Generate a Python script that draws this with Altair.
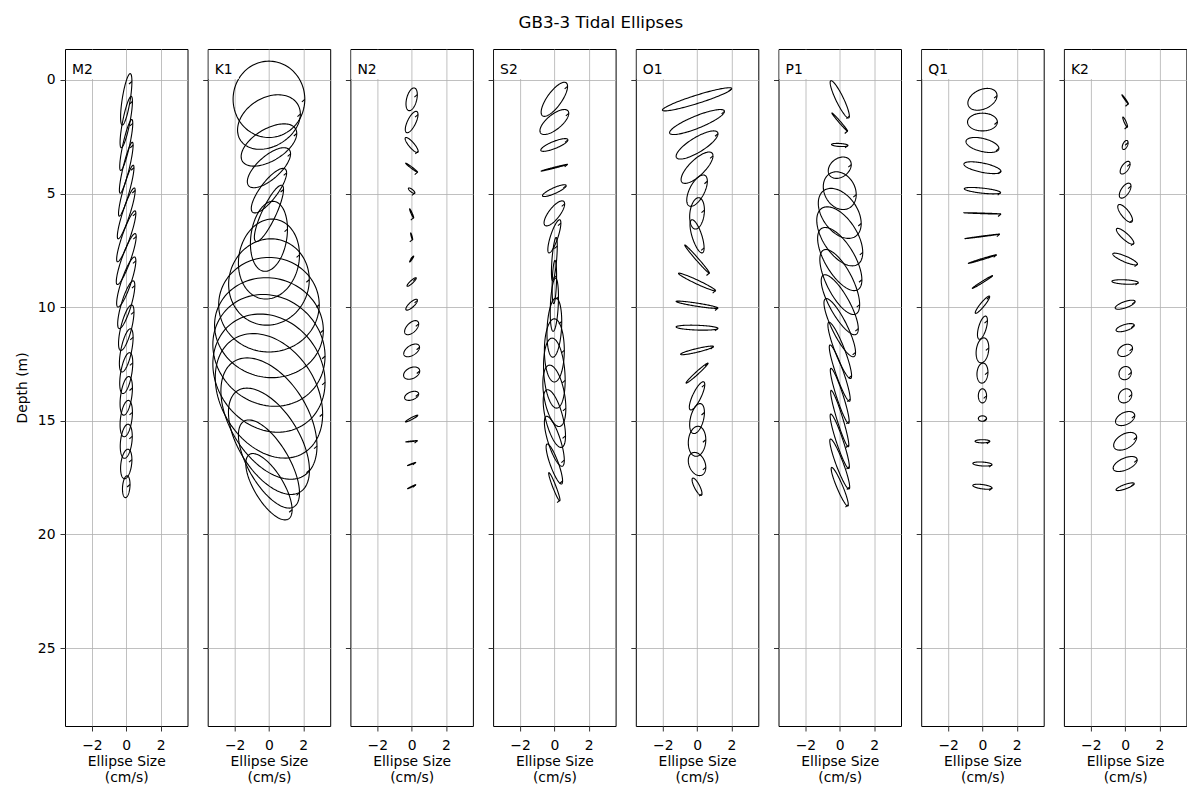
import numpy as np
import pandas as pd
import altair as alt

# Depth (m) of each ellipse centre
DEPTHS = [0.85, 1.85, 2.86, 3.86, 4.87, 5.87, 6.88, 7.88, 8.89,
          9.89, 10.9, 11.9, 12.9, 13.9, 14.9, 15.9, 16.9, 17.9]

CONSTITUENTS = ["M2", "K1", "N2", "S2", "O1", "P1", "Q1", "K2"]

# East amplitude (cm/s), depth-axis amplitude (cm/s), phase lag (deg) per constituent
M2_U = [0.33, 0.36, 0.38, 0.40, 0.45, 0.52, 0.56, 0.58, 0.56, 0.50, 0.45, 0.40, 0.38, 0.36, 0.36, 0.35, 0.33, 0.22]
M2_V = [1.13, 1.13, 1.12, 1.12, 1.12, 1.12, 1.12, 1.12, 1.10, 1.05, 1.00, 0.95, 0.90, 0.85, 0.80, 0.75, 0.65, 0.48]
M2_P = [134, 143, 148, 152, 154, 154, 154, 152, 148, 143, 134, 127, 120, 114, 110, 107, 107, 102]

K1_U = [2.09, 1.83, 1.62, 1.26, 1.03, 0.85, 1.08, 1.78, 2.35, 2.93, 3.17, 3.27, 3.27, 3.13, 2.80, 2.36, 1.78, 1.35]
K1_V = [1.68, 1.20, 0.93, 0.88, 0.98, 1.24, 1.54, 1.76, 1.90, 2.08, 2.20, 2.46, 2.60, 2.74, 2.67, 2.34, 1.94, 1.46]
K1_P = [90, 107, 123, 134, 143, 148, 102, 96, 93, 90, 87, 84, 81, 73, 63, 57, 49, 46]

N2_U = [0.33, 0.37, 0.38, 0.35, 0.19, 0.12, 0.06, 0.12, 0.27, 0.34, 0.41, 0.46, 0.47, 0.41, 0.36, 0.34, 0.24, 0.24]
N2_V = [0.50, 0.47, 0.33, 0.20, 0.12, 0.20, 0.15, 0.13, 0.19, 0.24, 0.31, 0.28, 0.27, 0.20, 0.15, 0.03, 0.07, 0.09]
N2_P = [114, 134, 32, 11, 37, 18, 26, 162, 154, 143, 123, 120, 110, 114, 162, 154, 169, 169]

S2_U = [0.77, 0.84, 0.79, 0.77, 0.69, 0.60, 0.38, 0.17, 0.13, 0.24, 0.43, 0.58, 0.63, 0.67, 0.65, 0.58, 0.48, 0.33]
S2_V = [0.75, 0.55, 0.28, 0.15, 0.26, 0.55, 0.73, 0.95, 0.95, 1.17, 1.30, 1.39, 1.54, 1.35, 1.27, 1.10, 0.88, 0.62]
S2_P = [139, 134, 143, 172, 148, 139, 143, 127, 107, 107, 102, 90, 78, 66, 53, 41, 32, 18]

O1_U = [2.02, 1.60, 1.22, 0.93, 0.60, 0.43, 0.41, 0.72, 1.08, 1.22, 1.22, 0.96, 0.64, 0.45, 0.43, 0.51, 0.51, 0.29]
O1_V = [0.51, 0.55, 0.62, 0.69, 0.69, 0.69, 0.73, 0.62, 0.39, 0.16, 0.11, 0.19, 0.44, 0.62, 0.66, 0.66, 0.51, 0.38]
O1_P = [158, 148, 143, 139, 127, 102, 46, 8, 14, 26, 73, 154, 169, 143, 114, 96, 73, 37]

P1_U = [0.56, 0.46, 0.48, 0.67, 0.96, 1.25, 1.34, 1.29, 1.16, 1.08, 0.92, 0.69, 0.61, 0.55, 0.53, 0.56, 0.58, 0.50]
P1_V = [0.82, 0.40, 0.07, 0.47, 0.83, 1.10, 1.30, 1.39, 1.43, 1.32, 1.28, 1.24, 1.24, 1.21, 1.24, 1.20, 1.10, 0.85]
P1_P = [26, 8, 73, 107, 78, 66, 57, 49, 46, 37, 32, 26, 23, 22, 20, 22, 23, 22]

Q1_U = [0.85, 0.87, 0.96, 1.08, 1.06, 1.08, 1.01, 0.82, 0.59, 0.42, 0.29, 0.37, 0.32, 0.24, 0.24, 0.43, 0.56, 0.56]
Q1_V = [0.48, 0.39, 0.33, 0.26, 0.14, 0.03, 0.10, 0.19, 0.28, 0.38, 0.51, 0.55, 0.44, 0.31, 0.12, 0.07, 0.09, 0.11]
Q1_P = [110, 90, 63, 53, 53, 26, 172, 172, 172, 158, 127, 102, 96, 90, 90, 90, 73, 60]

K2_U = [0.19, 0.14, 0.17, 0.29, 0.34, 0.43, 0.51, 0.72, 0.77, 0.58, 0.53, 0.43, 0.36, 0.39, 0.56, 0.67, 0.70, 0.53]
K2_V = [0.20, 0.22, 0.20, 0.28, 0.33, 0.39, 0.35, 0.26, 0.10, 0.20, 0.18, 0.27, 0.29, 0.31, 0.31, 0.39, 0.33, 0.17]
K2_P = [11, 26, 120, 127, 127, 41, 32, 32, 73, 134, 127, 110, 96, 102, 114, 117, 123, 143]

PARAMS = {
    "M2": (M2_U, M2_V, M2_P), "K1": (K1_U, K1_V, K1_P),
    "N2": (N2_U, N2_V, N2_P), "S2": (S2_U, S2_V, S2_P),
    "O1": (O1_U, O1_V, O1_P), "P1": (P1_U, P1_V, P1_P),
    "Q1": (Q1_U, Q1_V, Q1_P), "K2": (K2_U, K2_V, K2_P),
}

X_TICKS = [-2, 0, 2]
Y_TICKS = [0, 5, 10, 15, 20, 25]
X_DOMAIN = [-3.57, 3.57]
Y_DOMAIN = [-1.364, 28.43]

FONT = "DejaVu Sans"

# Trace each ellipse over one tidal cycle
t = np.linspace(0, 2 * np.pi, 121)
rows = []
marks = []
for name in CONSTITUENTS:
    U, V, P = PARAMS[name]
    for k, (d, u, v, p) in enumerate(zip(DEPTHS, U, V, P)):
        ph = np.radians(p)
        for i, tt in enumerate(t):
            rows.append({"c": name, "k": k, "i": i,
                         "x": u * np.cos(tt),
                         "depth": d + v * np.cos(tt - ph)})
        # small phase barb at the t = 0 point of each ellipse
        x0, y0 = u, d + v * np.cos(ph)
        marks.append({"c": name, "x": x0, "depth": y0,
                      "x2": x0 - 0.17, "depth2": y0 + 0.11})
df = pd.DataFrame(rows)
dm = pd.DataFrame(marks)

xscale = alt.Scale(domain=X_DOMAIN, nice=False, zero=False)
yscale = alt.Scale(domain=Y_DOMAIN, reverse=True, nice=False, zero=False)

panels = []
for j, name in enumerate(CONSTITUENTS):
    first = j == 0
    yaxis = alt.Axis(values=Y_TICKS, title="Depth (m)" if first else None,
                     labels=first, grid=True, tickSize=5, labelPadding=5,
                     titlePadding=8)
    xaxis = alt.Axis(values=X_TICKS, title=["Ellipse Size", "(cm/s)"],
                     grid=True, tickSize=5, labelPadding=7, titlePadding=3,
                     labelFlush=False)
    lines = alt.Chart(df[df.c == name]).mark_line(
        color="black", strokeWidth=1.1, clip=True
    ).encode(
        x=alt.X("x:Q", scale=xscale, axis=xaxis),
        y=alt.Y("depth:Q", scale=yscale, axis=yaxis),
        detail="k:N",
        order=alt.Order("i:Q"),
    )
    barbs = alt.Chart(dm[dm.c == name]).mark_rule(
        color="black", strokeWidth=1.1, clip=True
    ).encode(
        x=alt.X("x:Q", scale=xscale), x2="x2:Q",
        y=alt.Y("depth:Q", scale=yscale), y2="depth2:Q",
    )
    box = alt.Chart(pd.DataFrame({"a": [0]})).mark_rect(color="white").encode(
        x=alt.value(1), x2=alt.value(31), y=alt.value(1), y2=alt.value(30)
    )
    label = alt.Chart(pd.DataFrame({"label": [name]})).mark_text(
        align="left", baseline="middle", fontSize=13.9, font=FONT, color="black"
    ).encode(x=alt.value(7), y=alt.value(21), text="label:N")
    panels.append(alt.layer(lines, barbs, box, label).properties(width=122.5, height=677))

chart = alt.hconcat(*panels, spacing=13.7).properties(
    title=alt.Title("GB3-3 Tidal Ellipses", fontSize=16.7, font=FONT,
                    fontWeight="normal", anchor="middle", offset=17, color="black"),
    padding={"left": 6, "top": 6, "right": 0, "bottom": 0},
).configure_view(stroke="black", strokeWidth=1).configure_axis(
    gridColor="#b0b0b0", gridWidth=0.8, domain=False,
    tickColor="black", tickWidth=0.8,
    labelFont=FONT, labelFontSize=13.9, labelColor="black",
    titleFont=FONT, titleFontSize=13.9, titleFontWeight="normal", titleColor="black",
)

chart.save("out.html", embed_options={"renderer": "svg", "actions": False})
